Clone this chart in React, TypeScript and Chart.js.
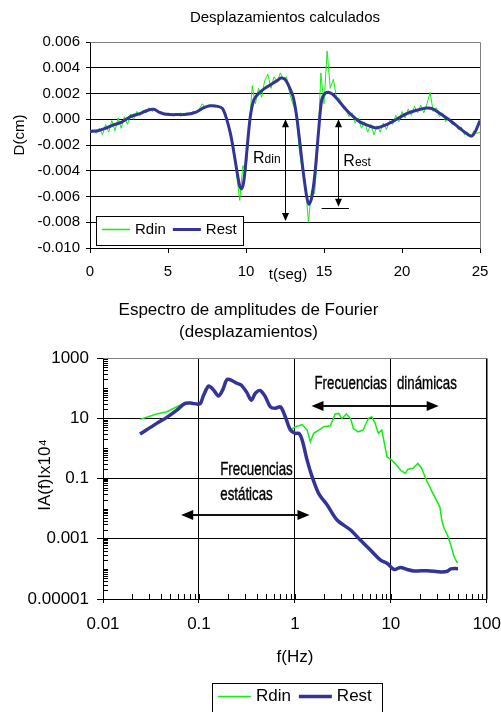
import { useEffect, useRef } from "react";
import { Chart, registerables } from "chart.js";

Chart.register(...registerables);

const FONT = '"Liberation Sans", Arial, Helvetica, sans-serif';
const GREEN = "#11ee11";
const BLUE = "#333399";

// ---------- Top chart: Desplazamientos calculados ----------
const TIME_TICKS = [0, 5, 10, 15, 20, 25];
const TIME_TICK_LABELS = ["0", "5", "10", "15", "20", "25"];
const DISP_TICKS = [-0.01, -0.008, -0.006, -0.004, -0.002, 0, 0.002, 0.004, 0.006];
const DISP_TICK_LABELS = ["-0.010", "-0.008", "-0.006", "-0.004", "-0.002", "0.000", "0.002", "0.004", "0.006"];

const restT = [0, 0.5, 1.0, 1.5, 2.0, 2.6, 3.2, 3.7, 4.1, 4.5, 4.9, 5.6, 6.2, 6.8, 7.3, 7.7, 8.2, 8.5, 8.75, 9.0, 9.2, 9.4, 9.6, 9.72, 9.85, 10.0, 10.15, 10.3, 10.5, 10.8, 11.2, 11.6, 12.0, 12.25, 12.5, 12.7, 13.03, 13.25, 13.46, 13.68, 13.89, 14.04, 14.21, 14.42, 14.64, 14.85, 15.06, 15.27, 15.6, 16.03, 16.45, 16.88, 17.3, 17.95, 18.38, 19.02, 19.66, 20.3, 20.94, 21.58, 22.0, 22.44, 23.08, 23.7, 24.25, 24.47, 24.68, 25];
const restD = [-0.00095, -0.0009, -0.0007, -0.00044, -0.00025, 0.0002, 0.00044, 0.0007, 0.00077, 0.00051, 0.00038, 0.00036, 0.00038, 0.00056, 0.0009, 0.00105, 0.001, 0.00082, 0.00005, -0.0011, -0.0024, -0.0039, -0.0052, -0.0054, -0.0049, -0.0032, -0.0012, 0.0004, 0.0015, 0.002, 0.0024, 0.0027, 0.003, 0.0032, 0.0031, 0.0027, 0.0017, 0.0002, -0.0019, -0.0042, -0.006, -0.0066, -0.0061, -0.0042, -0.0011, 0.0015, 0.002, 0.0021, 0.0019, 0.0013, 0.0007, 0.0002, -0.0002, -0.00054, -0.00067, -0.00041, 0, 0.00044, 0.0007, 0.00087, 0.00079, 0.00044, -0.0001, -0.0007, -0.0012, -0.0013, -0.001, -0.0001];

const RDIN_T0 = 0;
const RDIN_DT = 0.2;
const rdinD = [
  -0.0010, -0.0008, -0.0011, -0.0007, -0.0012, -0.0004, -0.0010, -0.0001, -0.0009, 0.0001,
  -0.0007, 0.0002, -0.0004, 0.0004, 0.0000, 0.0006, 0.0003, 0.0007, 0.0005, 0.0009,
  0.0006, 0.0008, 0.0005, 0.0006, 0.0003, 0.0005, 0.0003, 0.0004, 0.0003, 0.0005,
  0.0003, 0.0005, 0.0004, 0.0006, 0.0005, 0.0008, 0.0012, 0.0009, 0.0011, 0.0010,
  0.0011, 0.0009, 0.0010, 0.0004, -0.0002, -0.0013, -0.0021, -0.0043, -0.0063, -0.0036,
  -0.0041, -0.0009, 0.0026, 0.0012, 0.0024, 0.0017, 0.0030, 0.0035, 0.0024, 0.0033,
  0.0029, 0.0036, 0.0031, 0.0033, 0.0020, 0.0012, 0.0006, -0.0022, -0.0040, -0.0048,
  -0.0080, -0.0055, -0.0058, -0.0024, 0.0036, 0.0012, 0.0053, 0.0024, 0.0031, 0.0017,
  0.0016, 0.0009, 0.0008, 0.0002, 0.0005, -0.0003, 0.0001, -0.0007, -0.0002, -0.0010,
  -0.0004, -0.0012, -0.0005, -0.0010, -0.0003, -0.0008, -0.0001, -0.0004, 0.0003, -0.0002,
  0.0006, 0.0001, 0.0008, 0.0003, 0.0010, 0.0005, 0.0011, 0.0005, 0.0012, 0.0021,
  0.0006, 0.0009, 0.0002, 0.0005, -0.0002, 0.0001, -0.0004, -0.0003, -0.0008, -0.0006,
  -0.0012, -0.0010, -0.0014, -0.0009, -0.0011, -0.0010,
];

// annotations (data units)
const RDIN_ARROW = { t: 12.5, top: 0, bottom: -0.0079 };
const REST_ARROW = { t: 15.88, top: 0, bottom: -0.0068, barFrom: 14.85, barTo: 16.6, bar: -0.0069 };
const RDIN_LABEL = { t: 10.45, d: -0.00342 };
const REST_LABEL = { t: 16.24, d: -0.00361 };

// ---------- Bottom chart: Espectro de amplitudes de Fourier ----------
const FREQ_TICKS = [0.01, 0.1, 1, 10, 100];
const FREQ_TICK_LABELS = ["0.01", "0.1", "1", "10", "100"];
const AMP_TICKS = [0.00001, 0.001, 0.1, 10, 1000];
const AMP_TICK_LABELS = ["0.00001", "0.001", "0.1", "10", "1000"];

const rdinF = [0.0243, 0.0363, 0.0462, 0.0589, 0.0718, 0.0843, 0.0955, 0.103, 0.112, 0.126, 0.142, 0.16, 0.178, 0.196, 0.221, 0.249, 0.275, 0.316, 0.351, 0.389, 0.437, 0.492, 0.555, 0.625, 0.708, 0.794, 0.898, 1.01, 1.10, 1.19, 1.34, 1.45, 1.57, 1.77, 2.0, 2.34, 2.63, 2.86, 3.09, 3.44, 3.80, 4.07, 4.57, 5.13, 5.85, 6.31, 6.85, 7.41, 8.04, 9.12, 10.2, 11.5, 12.6, 14.1, 15.1, 17.0, 19.1, 20.9, 23.4, 27.5, 32.4, 33.9, 35.9, 38.9, 42.1, 45.7, 48.6, 50.1];
const rdinA = [9.18, 13.8, 16.4, 24.0, 32.8, 31.6, 29.5, 30.2, 58.9, 117, 87.1, 55, 91.2, 195, 178, 145, 126, 70.8, 39.8, 69.2, 83.2, 51.3, 24, 21.4, 24, 11.2, 4.07, 5.25, 5.62, 6.17, 4.07, 1.66, 3.16, 4.07, 5.25, 5.62, 13.8, 14.5, 9.77, 13.8, 9.77, 4.57, 3.55, 4.07, 10.0, 11.2, 6.76, 3.16, 4.07, 0.525, 0.407, 0.275, 0.191, 0.148, 0.204, 0.219, 0.316, 0.219, 0.0891, 0.0316, 0.0115, 0.00417, 0.00219, 0.00132, 0.000617, 0.000251, 0.00017, 0.00017];
const restF = [0.0243, 0.0363, 0.0462, 0.0589, 0.0718, 0.0843, 0.0955, 0.103, 0.112, 0.126, 0.142, 0.16, 0.178, 0.196, 0.221, 0.249, 0.275, 0.316, 0.351, 0.389, 0.437, 0.492, 0.555, 0.625, 0.708, 0.794, 0.898, 1.01, 1.10, 1.19, 1.34, 1.51, 1.77, 2.17, 2.75, 3.80, 4.83, 6.15, 7.82, 9.18, 10.8, 12.6, 14.8, 17.4, 24.0, 33.1, 38.9, 42.1, 50.1];
const restA = [2.99, 6.76, 10.7, 18.6, 31.3, 31.6, 29.5, 30.2, 58.9, 117, 87.1, 55, 91.2, 195, 178, 145, 126, 70.8, 39.8, 69.2, 83.2, 51.3, 24, 21.4, 24, 11.2, 4.07, 3.16, 3.16, 1.91, 0.407, 0.115, 0.0316, 0.0132, 0.00417, 0.00195, 0.000891, 0.000417, 0.000195, 0.000151, 0.0000955, 0.000112, 0.0000955, 0.0000851, 0.0000871, 0.0000794, 0.0000832, 0.0001, 0.000102];

const DYN_ARROW = { from: 1.49, to: 31.5, a: 25.4 };
const DYN_TEXT = { f: 1.6, a: 137, text: "Frecuencias dinámicas" };
const EST_ARROW = { from: 0.0653, to: 1.42, a: 0.00608 };
const EST_TEXT1 = { f: 0.1667, a: 0.19, text: "Frecuencias" };
const EST_TEXT2 = { f: 0.1667, a: 0.0281, text: "estáticas" };

const font = (size: number) => `${size}px ${FONT}`;
const al = (v: number) => Math.round(v) + 0.5;

function triangle(ctx: any, pts: number[][]) {
  ctx.beginPath();
  ctx.moveTo(pts[0][0], pts[0][1]);
  ctx.lineTo(pts[1][0], pts[1][1]);
  ctx.lineTo(pts[2][0], pts[2][1]);
  ctx.closePath();
  ctx.fill();
}

function drawFrame(ctx: any, ca: any) {
  ctx.strokeStyle = "#808080";
  ctx.lineWidth = 1;
  ctx.beginPath();
  ctx.moveTo(al(ca.left), al(ca.top));
  ctx.lineTo(al(ca.right), al(ca.top));
  ctx.lineTo(al(ca.right), al(ca.bottom));
  ctx.stroke();
}

function drawLegend(ctx: any, chart: any, x: number, y: number, w: number, h: number, size: number, lineLen: number, gap: number, itemGap: number) {
  ctx.fillStyle = "#fff";
  ctx.fillRect(x, y, w, h);
  ctx.strokeStyle = "#000";
  ctx.lineWidth = 1;
  ctx.strokeRect(al(x), al(y), Math.round(w), Math.round(h));
  ctx.font = font(size);
  ctx.textBaseline = "middle";
  ctx.textAlign = "left";
  const cy = y + 13.5;
  let cx = x + 6;
  chart.data.datasets.forEach((ds: any) => {
    ctx.strokeStyle = ds.borderColor;
    ctx.lineWidth = ds.legendWidth;
    ctx.beginPath();
    ctx.moveTo(cx, cy);
    ctx.lineTo(cx + lineLen, cy);
    ctx.stroke();
    ctx.fillStyle = "#000";
    ctx.fillText(ds.label, cx + lineLen + gap, cy);
    cx += lineLen + gap + ctx.measureText(ds.label).width + itemGap;
  });
}

const topDecor = {
  id: "topDecor",
  afterDraw(chart: any) {
    const { ctx, chartArea: ca } = chart;
    const xs = chart.scales.x;
    const ys = chart.scales.y;
    const px = (t: number) => xs.getPixelForValue(t);
    const py = (d: number) => ys.getPixelForValue(d);
    ctx.save();
    drawFrame(ctx, ca);

    // arrows
    ctx.strokeStyle = "#000";
    ctx.fillStyle = "#000";
    ctx.lineWidth = 1;
    const vArrow = (t: number, d1: number, d2: number) => {
      const x = al(px(t));
      const y1 = py(d1);
      const y2 = py(d2);
      const hl = 8;
      const hw = 3.5;
      ctx.beginPath();
      ctx.moveTo(x, y1 + hl - 1);
      ctx.lineTo(x, y2 - hl + 1);
      ctx.stroke();
      triangle(ctx, [[x, y1], [x - hw, y1 + hl], [x + hw, y1 + hl]]);
      triangle(ctx, [[x, y2], [x - hw, y2 - hl], [x + hw, y2 - hl]]);
    };
    vArrow(RDIN_ARROW.t, RDIN_ARROW.top, RDIN_ARROW.bottom);
    vArrow(REST_ARROW.t, REST_ARROW.top, REST_ARROW.bottom);
    ctx.beginPath();
    ctx.moveTo(px(REST_ARROW.barFrom), al(py(REST_ARROW.bar)));
    ctx.lineTo(px(REST_ARROW.barTo), al(py(REST_ARROW.bar)));
    ctx.stroke();

    // R labels
    const rLabel = (t: number, d: number, sub: string) => {
      const x = px(t);
      const y = py(d);
      ctx.textBaseline = "alphabetic";
      ctx.textAlign = "left";
      ctx.font = font(16);
      ctx.fillText("R", x, y);
      const w = ctx.measureText("R").width;
      ctx.font = font(12);
      ctx.fillText(sub, x + w, y);
    };
    rLabel(RDIN_LABEL.t, RDIN_LABEL.d, "din");
    rLabel(REST_LABEL.t, REST_LABEL.d, "est");

    // axis titles
    ctx.fillStyle = "#000";
    ctx.font = font(15);
    ctx.textAlign = "center";
    ctx.textBaseline = "middle";
    ctx.fillText("t(seg)", (ca.left + ca.right) / 2 + 3, ca.bottom + 27);
    ctx.save();
    ctx.translate(ca.left - 70.5, (ca.top + ca.bottom) / 2 - 10);
    ctx.rotate(-Math.PI / 2);
    ctx.fillText("D(cm)", 0, 0);
    ctx.restore();

    // legend inside plot
    drawLegend(ctx, chart, ca.left + 6, ca.bottom - 32, 147, 29, 15, 28, 5, 7);
    ctx.restore();
  },
};

const bottomDecor = {
  id: "bottomDecor",
  afterDraw(chart: any) {
    const { ctx, chartArea: ca } = chart;
    const xs = chart.scales.x;
    const ys = chart.scales.y;
    const px = (f: number) => xs.getPixelForValue(f);
    const py = (a: number) => ys.getPixelForValue(a);
    ctx.save();
    drawFrame(ctx, ca);

    // minor ticks (inside)
    ctx.strokeStyle = "#000";
    ctx.lineWidth = 1;
    ctx.beginPath();
    for (let e = -5; e < 3; e++) {
      for (let k = 1; k <= 9; k++) {
        const v = k * Math.pow(10, e);
        if (v > 1000.0001) continue;
        const y = al(py(v));
        ctx.moveTo(ca.left, y);
        ctx.lineTo(ca.left + 5, y);
      }
    }
    for (let e = -2; e < 2; e++) {
      for (let k = 1; k <= 9; k++) {
        const v = k * Math.pow(10, e);
        const x = al(px(v));
        ctx.moveTo(x, ca.bottom);
        ctx.lineTo(x, ca.bottom - 5);
      }
    }
    ctx.stroke();

    // arrows
    ctx.strokeStyle = "#111";
    ctx.fillStyle = "#000";
    ctx.lineWidth = 2;
    const hArrow = (f1: number, f2: number, a: number) => {
      const x1 = px(f1);
      const x2 = px(f2);
      const y = Math.round(py(a));
      const hl = 12;
      const hw = 5;
      ctx.beginPath();
      ctx.moveTo(x1 + hl - 1, y);
      ctx.lineTo(x2 - hl + 1, y);
      ctx.stroke();
      triangle(ctx, [[x1, y], [x1 + hl, y - hw], [x1 + hl, y + hw]]);
      triangle(ctx, [[x2, y], [x2 - hl, y - hw], [x2 - hl, y + hw]]);
    };
    hArrow(DYN_ARROW.from, DYN_ARROW.to, DYN_ARROW.a);
    hArrow(EST_ARROW.from, EST_ARROW.to, EST_ARROW.a);

    // condensed annotation texts
    const cText = (o: any, spacing: string) => {
      ctx.save();
      ctx.translate(px(o.f), py(o.a));
      ctx.scale(0.7, 1);
      ctx.font = font(19);
      ctx.fillStyle = "#000";
      ctx.strokeStyle = "#000";
      ctx.lineWidth = 0.4;
      ctx.textAlign = "left";
      ctx.textBaseline = "middle";
      try { ctx.wordSpacing = spacing; } catch (e) { /* ignore */ }
      ctx.fillText(o.text, 0, 0);
      ctx.strokeText(o.text, 0, 0);
      ctx.restore();
    };
    cText(DYN_TEXT, "9px");
    cText(EST_TEXT1, "0px");
    cText(EST_TEXT2, "0px");

    // axis titles
    ctx.fillStyle = "#000";
    ctx.font = font(17);
    ctx.textAlign = "center";
    ctx.textBaseline = "middle";
    ctx.fillText("f(Hz)", (ca.left + ca.right) / 2, ca.bottom + 58);
    ctx.save();
    ctx.translate(ca.left - 57.5, (ca.top + ca.bottom) / 2 - 3.5);
    ctx.rotate(-Math.PI / 2);
    ctx.fillText("IA(f)Ix10\u2074", 0, 0);
    ctx.restore();

    // legend below
    const cx = (ca.left + ca.right) / 2;
    drawLegend(ctx, chart, cx - 83, ca.bottom + 84, 170, 40, 17, 33, 5, 8);
    ctx.restore();
  },
};

function idxOf(list: number[], v: number, log: boolean) {
  for (let i = 0; i < list.length; i++) {
    const a = log ? Math.log10(list[i]) : list[i];
    const b = log ? Math.log10(v) : v;
    if (Math.abs(a - b) < 1e-6) return i;
  }
  return -1;
}

function topConfig(): any {
  const rdinPts = rdinD.map((d, i) => ({ x: RDIN_T0 + i * RDIN_DT, y: d }));
  const restPts = restT.map((t, i) => ({ x: t, y: restD[i] }));
  return {
    type: "line",
    data: {
      datasets: [
        { label: "Rdin", data: rdinPts, borderColor: GREEN, borderWidth: 1, pointRadius: 0, tension: 0, order: 2, legendWidth: 1.5 },
        { label: "Rest", data: restPts, borderColor: BLUE, borderWidth: 3, pointRadius: 0, tension: 0.3, order: 1, borderJoinStyle: "round", legendWidth: 3 },
      ],
    },
    options: {
      animation: false,
      responsive: false,
      maintainAspectRatio: false,
      devicePixelRatio: 1,
      layout: { padding: { left: 0, right: 21, top: 0, bottom: 0 } },
      plugins: {
        legend: { display: false },
        tooltip: { enabled: false },
        title: {
          display: true,
          text: "Desplazamientos calculados",
          fullSize: false,
          color: "#000",
          font: { family: FONT, size: 15, weight: "normal", lineHeight: 1.2 },
          padding: { top: 9, bottom: 15 },
        },
      },
      scales: {
        x: {
          type: "linear",
          min: 0,
          max: 25,
          afterFit: (s: any) => { s.height = 42; },
          afterBuildTicks: (s: any) => { s.ticks = TIME_TICKS.map((v) => ({ value: v })); },
          ticks: {
            autoSkip: false,
            maxRotation: 0,
            padding: 10,
            color: "#000",
            font: { family: FONT, size: 15 },
            callback: (v: number) => TIME_TICK_LABELS[idxOf(TIME_TICKS, v, false)],
          },
          grid: { drawOnChartArea: false, drawTicks: true, tickLength: 5, color: "#000", tickColor: "#000" },
          border: { display: true, color: "#000", width: 1 },
        },
        y: {
          type: "linear",
          min: -0.01,
          max: 0.006,
          afterFit: (s: any) => { s.width = 90; },
          afterBuildTicks: (s: any) => { s.ticks = DISP_TICKS.map((v) => ({ value: v })); },
          ticks: {
            padding: 6,
            color: "#000",
            font: { family: FONT, size: 15 },
            callback: (v: number) => DISP_TICK_LABELS[idxOf(DISP_TICKS, v, false)],
          },
          grid: { color: "#000", lineWidth: 1, drawTicks: true, tickLength: 4, tickColor: "#000" },
          border: { display: true, color: "#000", width: 1 },
        },
      },
    },
    plugins: [topDecor],
  };
}

function bottomConfig(): any {
  const rdinPts = rdinF.map((f, i) => ({ x: f, y: rdinA[i] }));
  const restPts = restF.map((f, i) => ({ x: f, y: restA[i] }));
  return {
    type: "line",
    data: {
      datasets: [
        { label: "Rdin", data: rdinPts, borderColor: GREEN, borderWidth: 1.5, pointRadius: 0, tension: 0, order: 2, legendWidth: 1.5 },
        { label: "Rest", data: restPts, borderColor: BLUE, borderWidth: 3.5, pointRadius: 0, tension: 0.3, order: 1, borderJoinStyle: "round", legendWidth: 3.5 },
      ],
    },
    options: {
      animation: false,
      responsive: false,
      maintainAspectRatio: false,
      devicePixelRatio: 1,
      layout: { padding: { left: 0, right: 4, top: 0, bottom: 0 } },
      plugins: {
        legend: { display: false },
        tooltip: { enabled: false },
        title: {
          display: true,
          text: ["Espectro de amplitudes de Fourier", "(desplazamientos)"],
          fullSize: true,
          color: "#000",
          font: { family: FONT, size: 17, weight: "normal", lineHeight: 1.3 },
          padding: { top: 9, bottom: 14.8 },
        },
      },
      scales: {
        x: {
          type: "logarithmic",
          min: 0.01,
          max: 100,
          afterFit: (s: any) => { s.height = 113; },
          afterBuildTicks: (s: any) => { s.ticks = FREQ_TICKS.map((v) => ({ value: v })); },
          ticks: {
            autoSkip: false,
            maxRotation: 0,
            padding: 0,
            color: "#000",
            font: { family: FONT, size: 17, lineHeight: 2.5 },
            callback: (v: number) => FREQ_TICK_LABELS[idxOf(FREQ_TICKS, v, true)],
          },
          grid: { color: "#000", lineWidth: 1, drawTicks: true, tickLength: 4, tickColor: "#000" },
          border: { display: true, color: "#000", width: 1 },
        },
        y: {
          type: "logarithmic",
          min: 0.00001,
          max: 1000,
          afterFit: (s: any) => { s.width = 103; },
          afterBuildTicks: (s: any) => { s.ticks = AMP_TICKS.map((v) => ({ value: v })); },
          ticks: {
            padding: 8,
            color: "#000",
            font: { family: FONT, size: 17 },
            callback: (v: number) => AMP_TICK_LABELS[idxOf(AMP_TICKS, v, true)],
          },
          grid: { color: "#000", lineWidth: 1, drawTicks: true, tickLength: 6, tickColor: "#000" },
          border: { display: true, color: "#000", width: 1 },
        },
      },
    },
    plugins: [bottomDecor],
  };
}

export default function App() {
  const topRef = useRef<HTMLCanvasElement>(null);
  const botRef = useRef<HTMLCanvasElement>(null);
  useEffect(() => {
    const c1 = new Chart(topRef.current as HTMLCanvasElement, topConfig());
    const c2 = new Chart(botRef.current as HTMLCanvasElement, bottomConfig());
    return () => {
      c1.destroy();
      c2.destroy();
    };
  }, []);
  return (
    <div style={{ position: "absolute", left: 0, top: 0, width: 501, height: 712, background: "#fff", overflow: "hidden" }}>
      <canvas ref={topRef} width={501} height={290} style={{ position: "absolute", left: 0, top: 0, width: 501, height: 290 }} />
      <canvas ref={botRef} width={501} height={422} style={{ position: "absolute", left: 0, top: 290, width: 501, height: 422 }} />
    </div>
  );
}
